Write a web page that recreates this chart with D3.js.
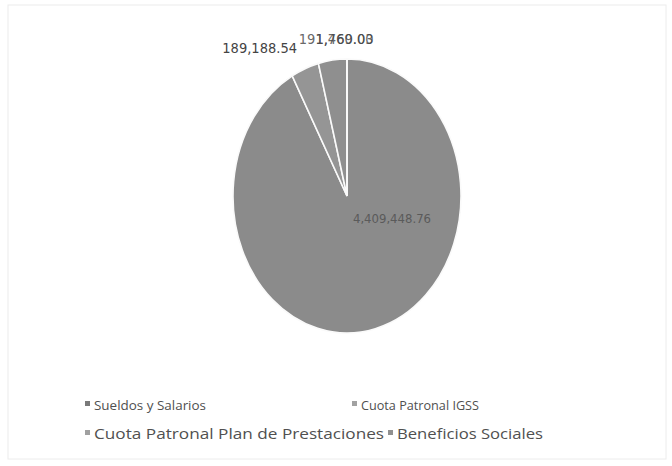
<!DOCTYPE html>
<html>
<head>
<meta charset="utf-8">
<style>
  body { margin: 0; background: #fff; }
  svg { display: block; }
</style>
</head>
<body>
<svg id="chart" width="672" height="466"></svg>
<script src="https://d3js.org/d3.v7.min.js"></script>
<script>

// data
var categories = ["Sueldos y Salarios", "Cuota Patronal IGSS", "Cuota Patronal Plan de Prestaciones", "Beneficios Sociales"]
var values = [4409448.76, 189188.54, 191769.03, 1460.00]
var valueLabels = ["4,409,448.76", "189,188.54", "191,769.03", "1,460.00"]
var sliceColors = ["#8b8b8b", "#959595", "#8f8f8f", "#999999"]
var markerColors = ["#7a7a7a", "#a2a2a2", "#a0a0a0", "#909090"]

var svg = d3.select("#chart")

// faint frame of the pasted chart
svg.append("rect")
  .attr("x", 8).attr("y", 5)
  .attr("width", 658).attr("height", 454)
  .attr("fill", "#fff")
  .attr("stroke", "#ececec")
  .attr("stroke-width", 1)

var cx = 347, cy = 196
var ry = 137, rx = 114     // the picture is stretched -> ellipse

var rows = categories.map(function(c, i) { return {name: c, value: values[i], label: valueLabels[i], color: sliceColors[i]} })

var pie = d3.pie().sort(null).value(function(d) { return d.value })
var arcs = pie(rows)

var arc = d3.arc().innerRadius(0).outerRadius(ry)

var g = svg.append("g")
  .attr("transform", "translate(" + cx + "," + cy + ") scale(" + (rx / ry) + ",1)")

g.selectAll("path.slice")
  .data(arcs)
  .enter()
  .append("path")
    .attr("class", "slice")
    .attr("d", arc)
    .attr("fill", function(d) { return d.data.color })
    .attr("stroke", "#fafafa")
    .attr("stroke-width", 1.6)
    .attr("vector-effect", "non-scaling-stroke")

// point on the ellipse edge at the middle of a slice
function edgePoint(d, k) {
  var a = (d.startAngle + d.endAngle) / 2
  return [cx + Math.sin(a) * rx * k, cy - Math.cos(a) * ry * k]
}

// big slice label sits inside (excel "best fit")
var big = arcs[0]
svg.append("text")
  .attr("x", cx + 45)
  .attr("y", cy + 27)
  .attr("text-anchor", "middle")
  .style("font-family", "'DejaVu Sans Condensed', 'DejaVu Sans', sans-serif")
  .style("font-size", "13px")
  .attr("fill", "#5a5a5a")
  .text(big.data.label)

// outside labels; excel pushed the last two onto the same spot
var lblFont = "'DejaVu Sans Condensed', 'DejaVu Sans', sans-serif"
var p1 = edgePoint(arcs[1], 1)
svg.append("text")
  .attr("x", p1[0] - 8)
  .attr("y", p1[1] - 16)
  .attr("text-anchor", "end")
  .style("font-family", lblFont)
  .style("font-size", "14.5px")
  .attr("fill", "#444")
  .text(arcs[1].data.label)

var p2 = edgePoint(arcs[2], 1)
svg.selectAll("text.toplbl")
  .data(arcs.slice(2))
  .enter()
  .append("text")
    .attr("class", "toplbl")
    .attr("x", p2[0] + 41)
    .attr("y", p2[1] - 16)
    .attr("text-anchor", "end")
    .style("font-family", lblFont)
    .style("font-size", "14.5px")
    .attr("fill", "#444")
    .attr("opacity", 0.8)
    .text(function(d) { return d.data.label })

// legend, 2 rows
var legX = [85, 352, 85, 388], legY = [405, 405, 434, 434]
var legW = [112, 118, 290, 146]
var legSize = [13.5, 13.5, 14.5, 14.5]
var leg = svg.selectAll("g.leg")
  .data(categories)
  .enter()
  .append("g")
    .attr("class", "leg")
    .attr("transform", function(d, i) { return "translate(" + legX[i] + "," + legY[i] + ")" })

leg.append("rect")
  .attr("x", 0).attr("y", -4)
  .attr("width", 5).attr("height", 5)
  .attr("fill", function(d, i) { return markerColors[i] })

leg.append("text")
  .attr("x", 9)
  .attr("y", 0)
  .attr("dy", "0.35em")
  .attr("textLength", function(d, i) { return legW[i] })
  .attr("lengthAdjust", "spacingAndGlyphs")
  .style("font-family", "'Open Sans', 'Noto Sans', sans-serif")
  .style("font-size", function(d, i) { return legSize[i] + "px" })
  .attr("fill", "#505050")
  .text(function(d) { return d })

</script>
</body>
</html>
